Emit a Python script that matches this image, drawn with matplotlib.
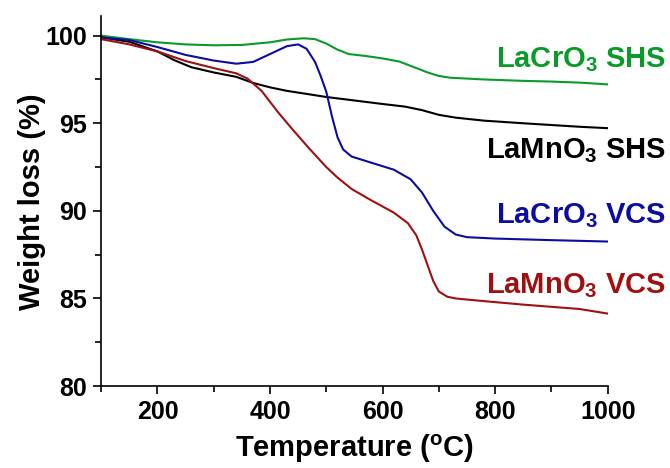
import numpy as np
import matplotlib
matplotlib.use("Agg")
import matplotlib.pyplot as plt
from matplotlib.ticker import MultipleLocator

plt.rcParams['font.family'] = ['Liberation Sans', 'DejaVu Sans']
plt.rcParams['font.weight'] = 'bold'
plt.rcParams['mathtext.fontset'] = 'custom'
plt.rcParams['mathtext.rm'] = 'Liberation Sans:bold'
plt.rcParams['mathtext.bf'] = 'Liberation Sans:bold'

# --- data (temperature in C, weight %) ---
t_cr_shs = [100, 150, 200, 250, 300, 350, 400, 430, 460, 480, 500, 520, 540, 570, 600,
            630, 660, 680, 700, 720, 780, 850, 900, 950, 1000]
w_cr_shs = [100.0, 99.8, 99.62, 99.5, 99.45, 99.47, 99.62, 99.78, 99.85, 99.8, 99.55, 99.2,
            98.95, 98.84, 98.7, 98.52, 98.15, 97.9, 97.7, 97.6, 97.5, 97.42, 97.38, 97.32, 97.22]

t_mn_shs = [100, 150, 200, 230, 260, 300, 340, 370, 400, 430, 460, 500, 550, 600, 640,
            670, 700, 730, 780, 850, 900, 950, 1000]
w_mn_shs = [99.9, 99.65, 99.1, 98.6, 98.2, 97.9, 97.65, 97.3, 97.05, 96.85, 96.7, 96.5,
            96.3, 96.1, 95.95, 95.75, 95.48, 95.32, 95.15, 95.0, 94.9, 94.8, 94.72]

t_cr_vcs = [100, 150, 200, 250, 300, 340, 370, 400, 430, 450, 465, 480, 490, 500, 510,
            520, 530, 545, 580, 620, 650, 670, 690, 710, 730, 750, 800, 900, 1000]
w_cr_vcs = [99.9, 99.75, 99.35, 98.9, 98.58, 98.4, 98.5, 98.95, 99.4, 99.5, 99.25, 98.5,
            97.7, 96.8, 95.4, 94.2, 93.5, 93.1, 92.75, 92.35, 91.8, 91.05, 90.0, 89.1,
            88.65, 88.5, 88.42, 88.33, 88.25]

t_mn_vcs = [100, 150, 200, 250, 300, 340, 360, 385, 415, 440, 470, 500, 520, 545, 580,
            620, 645, 660, 670, 680, 690, 700, 715, 730, 780, 850, 950, 1000]
w_mn_vcs = [99.8, 99.5, 99.1, 98.55, 98.15, 97.85, 97.55, 96.85, 95.6, 94.65, 93.55, 92.5,
            91.9, 91.25, 90.6, 89.9, 89.3, 88.6, 87.8, 86.9, 86.0, 85.4, 85.1, 85.0,
            84.85, 84.65, 84.4, 84.14]

labels = [r'LaCrO$_\mathbf{3}$ SHS', r'LaMnO$_\mathbf{3}$ SHS',
          r'LaCrO$_\mathbf{3}$ VCS', r'LaMnO$_\mathbf{3}$ VCS']
colors = ['#0a9a2a', 'black', '#0c0ca0', '#a01010']

fig = plt.figure(figsize=(6.7, 4.68), dpi=100)
ax = fig.add_axes([0.151, 0.175, 0.756, 0.79])

ax.plot(t_cr_shs, w_cr_shs, color=colors[0], lw=1.5)
ax.plot(t_mn_shs, w_mn_shs, color=colors[1], lw=1.5)
ax.plot(t_cr_vcs, w_cr_vcs, color=colors[2], lw=1.5)
ax.plot(t_mn_vcs, w_mn_vcs, color=colors[3], lw=1.5)

ax.set_xlim(100, 1000)
ax.set_ylim(80, 101.1)
ax.xaxis.set_minor_locator(MultipleLocator(100))
ax.yaxis.set_minor_locator(MultipleLocator(2.5))
ax.set_yticks([80, 85, 90, 95, 100])
ax.set_xticks([200, 400, 600, 800, 1000])

for s in ['top', 'right']:
    ax.spines[s].set_visible(False)
for s in ['left', 'bottom']:
    ax.spines[s].set_linewidth(1.2)
ax.tick_params(which='major', length=6, width=1.2, labelsize=18, direction='out', pad=4)
ax.tick_params(which='minor', length=4, width=1.2, direction='out')

ax.set_xlabel(r'Temperature ($^\mathbf{o}$C)', fontsize=21, fontweight='bold', labelpad=6)
ax.set_ylabel('Weight loss (%)', fontsize=21, fontweight='bold', labelpad=0)

label_y = [67, 158, 223, 293]
for lab, c, y in zip(labels, colors, label_y):
    fig.text(666 / 670, 1 - y / 468, lab, color=c, fontsize=21, fontweight='bold',
             ha='right', va='baseline')

fig.savefig('out.png', dpi=100)
